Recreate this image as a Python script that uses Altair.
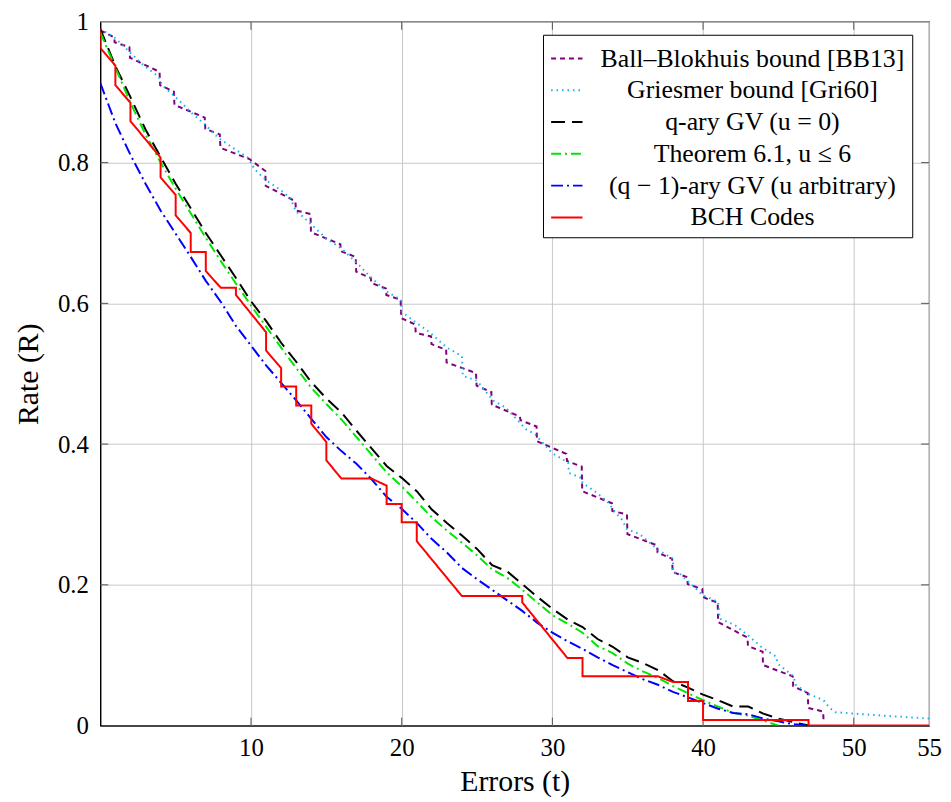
import altair as alt
import pandas as pd

# ---------------- data ----------------
SERIES = [
    "Ball–Blokhuis bound [BB13]",
    "Griesmer bound [Gri60]",
    "q-ary GV (u = 0)",
    "Theorem 6.1, u ≤ 6",
    "(q − 1)-ary GV (u arbitrary)",
    "BCH Codes",
]

bb_t = [0, 0.93, 0.95, 1.93, 1.97, 3.93, 3.97, 4.88, 4.92, 6.93, 6.97, 7.93, 7.97, 9.9,
        10.95, 10.98, 12.95, 12.98, 13.95, 13.98, 15.93, 15.97, 16.95, 16.98, 17.95, 17.98,
        18.95, 18.98, 19.93, 19.97, 20.9, 20.93, 21.95, 21.98, 22.95, 22.98, 24.93, 24.97,
        25.95, 25.98, 27.85, 27.88, 28.95, 28.98, 30.93, 30.97, 31.95, 31.98, 33.95, 33.98,
        34.95, 34.98, 36.95, 36.98, 37.95, 37.98, 38.95, 38.98, 39.95, 39.98, 40.5, 40.97,
        41.0, 42.95, 42.98, 43.95, 43.98, 45.95, 45.98, 46.95, 46.98, 47.97, 48.0]
bb_r = [0.988, 0.978, 0.971, 0.964, 0.949, 0.929, 0.910, 0.901, 0.882, 0.864, 0.848, 0.840,
        0.821, 0.805, 0.788, 0.767, 0.745, 0.732, 0.727, 0.701, 0.684, 0.674, 0.666, 0.645,
        0.636, 0.629, 0.621, 0.612, 0.605, 0.579, 0.570, 0.558, 0.553, 0.542, 0.534, 0.516,
        0.501, 0.483, 0.474, 0.456, 0.439, 0.434, 0.425, 0.404, 0.386, 0.376, 0.368, 0.333,
        0.316, 0.305, 0.300, 0.272, 0.256, 0.246, 0.237, 0.218, 0.211, 0.201, 0.194, 0.183,
        0.178, 0.175, 0.147, 0.125, 0.113, 0.105, 0.086, 0.070, 0.056, 0.046, 0.025, 0.020,
        0.004]

gri_t = [0, 0.93, 1.47, 2.24, 3.0, 3.88, 4.1, 5.2, 6.08, 6.96, 7.84, 8.8, 9.8, 10.26, 11.0,
         11.9, 12.6, 13.0, 13.4, 14.2, 15.0, 16.0, 17.0, 18.0, 19.0, 19.95, 20.0, 21.0, 21.9,
         23.0, 24.0, 24.05, 25.0, 26.06, 26.9, 28.3, 28.8, 30.0, 30.56, 31.05, 31.1, 31.9, 32.0,
         33.0, 33.75, 34.1, 34.6, 34.96, 35.8, 37.0, 38.0, 38.02, 38.5, 40.0, 41.0, 41.1, 42.1,
         43.0, 43.85, 44.85, 44.95, 46.0, 46.15, 47.0, 48.0, 48.4, 48.8, 50.0, 52.0, 55.0]
gri_r = [0.990, 0.978, 0.967, 0.951, 0.936, 0.922, 0.910, 0.889, 0.870, 0.854, 0.835, 0.821,
         0.807, 0.790, 0.775, 0.762, 0.750, 0.730, 0.724, 0.708, 0.692, 0.678, 0.658, 0.636,
         0.617, 0.605, 0.588, 0.572, 0.558, 0.537, 0.525, 0.497, 0.490, 0.462, 0.452, 0.420,
         0.415, 0.387, 0.380, 0.373, 0.359, 0.352, 0.345, 0.330, 0.316, 0.305, 0.293, 0.279,
         0.272, 0.250, 0.237, 0.218, 0.215, 0.185, 0.176, 0.152, 0.143, 0.128, 0.112, 0.098,
         0.088, 0.070, 0.058, 0.045, 0.036, 0.025, 0.019, 0.017, 0.014, 0.010]

qgv_t = list(range(0, 48))
qgv_r = [0.990, 0.937, 0.893, 0.847, 0.808, 0.770, 0.735, 0.700, 0.668, 0.636, 0.603, 0.575,
         0.544, 0.517, 0.488, 0.465, 0.445, 0.419, 0.394, 0.369, 0.352, 0.333, 0.307, 0.288,
         0.270, 0.251, 0.228, 0.219, 0.201, 0.183, 0.166, 0.151, 0.140, 0.123, 0.112, 0.097,
         0.089, 0.079, 0.063, 0.054, 0.044, 0.036, 0.027, 0.027, 0.017, 0.010, 0.005, 0.000]

thm_t = list(range(0, 46))
thm_r = [0.985, 0.935, 0.885, 0.840, 0.800, 0.763, 0.728, 0.693, 0.660, 0.628, 0.597, 0.567,
         0.537, 0.508, 0.480, 0.457, 0.435, 0.410, 0.385, 0.360, 0.340, 0.318, 0.296, 0.277,
         0.260, 0.242, 0.222, 0.210, 0.193, 0.175, 0.157, 0.145, 0.132, 0.113, 0.103, 0.088,
         0.077, 0.068, 0.056, 0.046, 0.036, 0.027, 0.018, 0.014, 0.007, 0.000]

q1gv_t = list(range(0, 48))
q1gv_r = [0.913, 0.856, 0.811, 0.770, 0.732, 0.699, 0.666, 0.632, 0.602, 0.568, 0.540, 0.512,
          0.487, 0.462, 0.436, 0.410, 0.390, 0.372, 0.350, 0.325, 0.308, 0.288, 0.265, 0.246,
          0.224, 0.208, 0.193, 0.178, 0.163, 0.146, 0.132, 0.120, 0.109, 0.097, 0.086, 0.076,
          0.066, 0.058, 0.048, 0.040, 0.032, 0.024, 0.018, 0.016, 0.010, 0.006, 0.002, 0.000]

bch_t = [0, 0, 1, 1, 2, 2, 4, 4, 5, 5, 6, 6, 7, 7, 8, 9, 9, 11, 11, 12, 12, 13, 13, 14, 14,
         15, 15, 16, 18, 19, 19, 20, 20, 21, 21, 24, 28, 28, 31, 32, 32, 37, 38, 39, 39, 40,
         40, 47, 47, 55]
bch_r = [0.990, 0.963, 0.938, 0.910, 0.885, 0.859, 0.807, 0.779, 0.754, 0.725, 0.700, 0.673,
         0.673, 0.646, 0.622, 0.622, 0.612, 0.559, 0.533, 0.508, 0.482, 0.482, 0.455, 0.455,
         0.429, 0.403, 0.377, 0.351, 0.351, 0.341, 0.315, 0.315, 0.289, 0.289, 0.262, 0.184,
         0.184, 0.175, 0.096, 0.096, 0.070, 0.070, 0.062, 0.062, 0.035, 0.035, 0.008, 0.008,
         0.000, 0.000]

x_ticks = [10, 20, 30, 40, 50, 55]
y_ticks = [0, 0.2, 0.4, 0.6, 0.8, 1]
x_inner_ticks = [10, 20, 30, 40, 50]
y_inner_ticks = [0.2, 0.4, 0.6, 0.8]

# ---------------- styles ----------------
COLORS = ["#800080", "#16b0ee", "#000000", "#00e600", "#0000ff", "#ff0000"]
DASHES = [[5, 4], [1.5, 4], [14, 7], [10, 4, 2, 4], [12, 4, 2, 4], [1, 0]]
FONT = "Liberation Serif, DejaVu Serif, serif"
W, H = 835, 709
TICK = 8

rows = []
for name, ts, rs in zip(SERIES,
                        [bb_t, gri_t, qgv_t, thm_t, q1gv_t, bch_t],
                        [bb_r, gri_r, qgv_r, thm_r, q1gv_r, bch_r]):
    for i, (t, r) in enumerate(zip(ts, rs)):
        rows.append({"series": name, "t": t, "R": r, "i": i})
df = pd.DataFrame(rows)
xt_df = pd.DataFrame({"t": x_inner_ticks})
yt_df = pd.DataFrame({"R": y_inner_ticks})

legend = alt.Legend(
    title=None, orient="none", legendX=446, legendY=13,
    labelFont=FONT, labelFontSize=26, labelColor="black",
    labelAlign="center", labelOffset=170, labelLimit=600,
    symbolType="stroke", symbolSize=1000, symbolStrokeWidth=2,
    strokeColor="black", fillColor="white", padding=7, rowPadding=2,
)

xscale = alt.Scale(domain=[0, 55], nice=False, zero=False)
yscale = alt.Scale(domain=[0, 1], nice=False)

lines = alt.Chart(df).mark_line(strokeWidth=2, clip=True).encode(
    x=alt.X("t:Q", scale=xscale,
            axis=alt.Axis(values=x_ticks, title="Errors (t)", labelFlush=False,
                          ticks=False, labelPadding=10, titlePadding=6)),
    y=alt.Y("R:Q", scale=yscale,
            axis=alt.Axis(values=y_ticks, format="~g", title="Rate (R)",
                          ticks=False, labelPadding=12, titlePadding=14)),
    color=alt.Color("series:N", scale=alt.Scale(domain=SERIES, range=COLORS), legend=legend),
    strokeDash=alt.StrokeDash("series:N", scale=alt.Scale(domain=SERIES, range=DASHES), legend=legend),
    order=alt.Order("i:Q"),
)

tick_style = dict(color="#555555", strokeWidth=1)
bottom_ticks = alt.Chart(xt_df).mark_rule(**tick_style).encode(
    x=alt.X("t:Q", scale=xscale), y=alt.value(H - TICK), y2=alt.value(H))
top_ticks = alt.Chart(xt_df).mark_rule(**tick_style).encode(
    x=alt.X("t:Q", scale=xscale), y=alt.value(0), y2=alt.value(TICK))
left_ticks = alt.Chart(yt_df).mark_rule(**tick_style).encode(
    y=alt.Y("R:Q", scale=yscale), x=alt.value(0), x2=alt.value(TICK))
right_ticks = alt.Chart(yt_df).mark_rule(**tick_style).encode(
    y=alt.Y("R:Q", scale=yscale), x=alt.value(W - TICK), x2=alt.value(W))

chart = alt.layer(
    bottom_ticks, top_ticks, left_ticks, right_ticks, lines
).properties(
    width=W, height=H,
    autosize=alt.AutoSizeParams(type="none"),
    padding={"left": 93, "top": 11, "right": 14, "bottom": 70},
).configure_view(
    stroke="black", strokeWidth=1.2,
).configure_axis(
    labelFont=FONT, labelFontSize=25, labelColor="black",
    titleFont=FONT, titleFontSize=30, titleFontWeight="normal", titleColor="black",
    gridColor="#c8c8c8", gridWidth=1, domainColor="black",
)

chart.save("out.html", embed_options={"renderer": "svg", "actions": False})
